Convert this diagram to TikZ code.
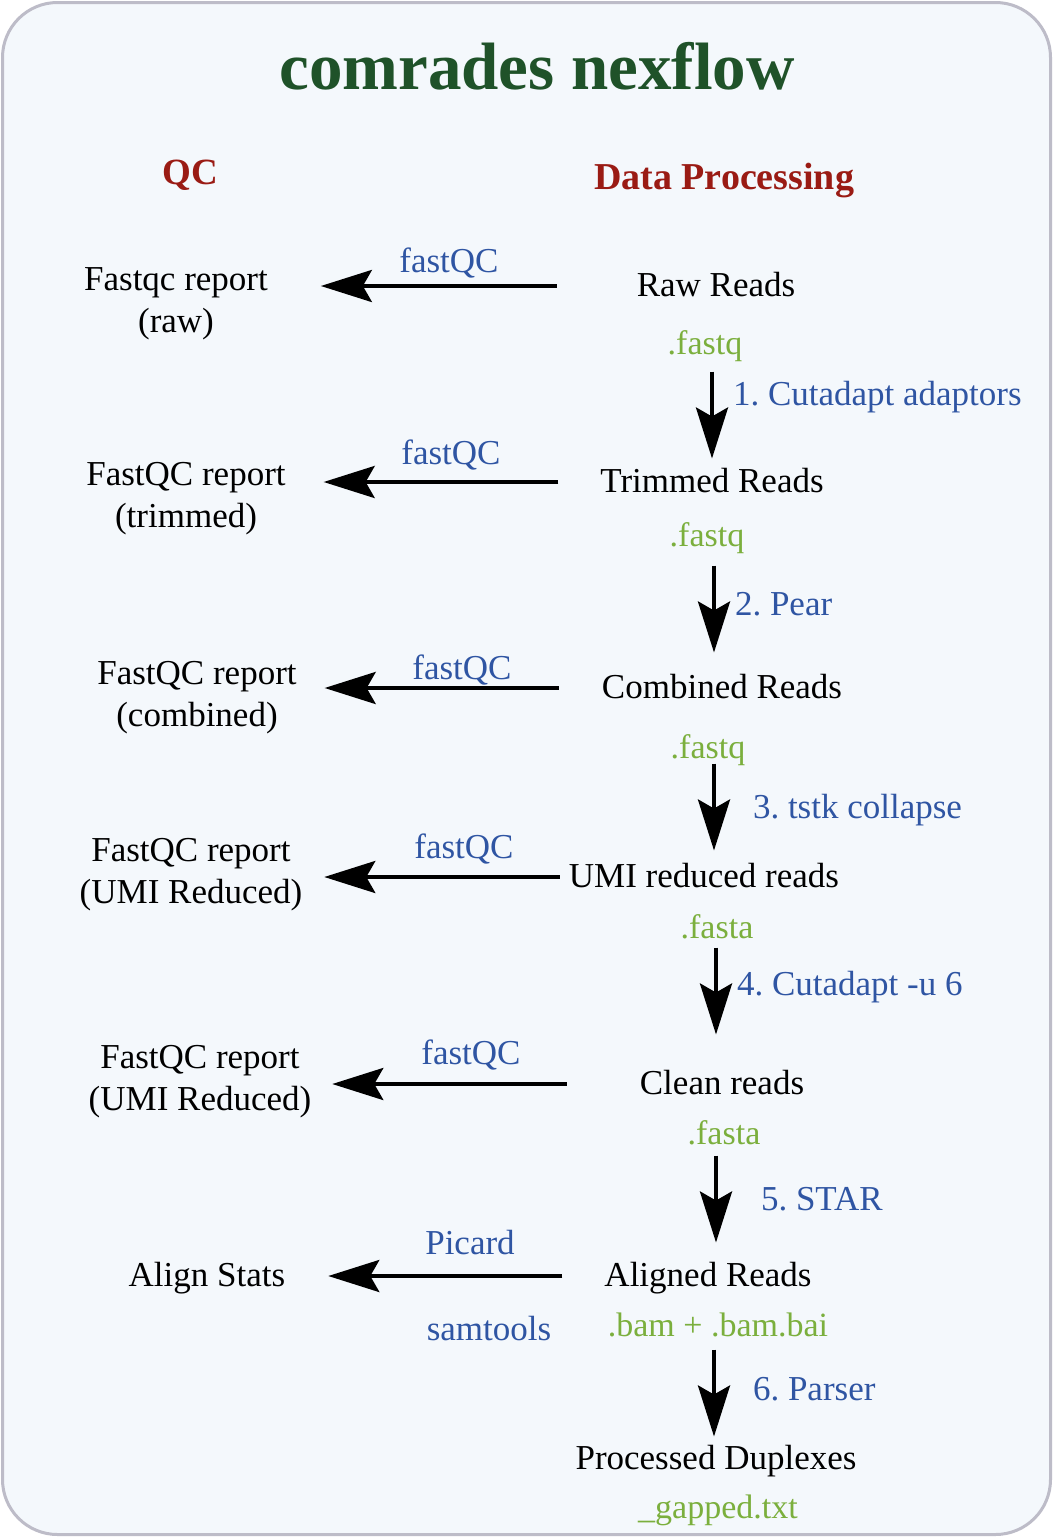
\documentclass[tikz,border=0pt]{standalone}
\usepackage{fontspec}
\setmainfont{Liberation Serif}
\usetikzlibrary{arrows.meta}
\definecolor{bgc}{HTML}{F4F8FC}
\definecolor{framec}{HTML}{BDBCC8}
\definecolor{titlegreen}{HTML}{1F5229}
\definecolor{hdrred}{HTML}{9A1B14}
\definecolor{toolblue}{HTML}{2F55A3}
\definecolor{extgreen}{HTML}{7BAF3D}
\frenchspacing
\begin{document}
\begin{tikzpicture}[x=1pt,y=-1pt,
  every node/.style={inner sep=0pt, outer sep=0pt},
  txt/.style={font=\fontsize{35}{42}\selectfont, text height=26pt, text depth=5pt},
  qcbox/.style={font=\fontsize{35}{42}\selectfont, align=center},
  tool/.style={txt, text=toolblue},
  steplab/.style={tool, anchor=west},
  ext/.style={font=\fontsize{34}{40}\selectfont, text height=26pt, text depth=5pt, text=extgreen},
  hdr/.style={font=\fontsize{38}{44}\selectfont\bfseries, text=hdrred},
  arr/.style={line width=4pt, -{Stealth[length=51pt,width=32pt,inset=9pt]}}
]
\useasboundingbox (0,0) rectangle (1053,1537);
\fill[white] (0,0) rectangle (1053,1537);
\draw[framec, line width=3pt, fill=bgc, rounded corners=55pt] (2.5,2.5) rectangle (1050.5,1534.5);

% title and headers
\node[font=\fontsize{67}{80}\selectfont\bfseries, text=titlegreen] (title) at (537,66) {comrades nexflow};
\node[hdr, font=\fontsize{37}{44}\selectfont\bfseries] (hqc) at (190,175) {QC};
\node[hdr] (hdp) at (724,181) {Data Processing};

% data processing column
\node[txt] (raw) at (716,286) {Raw Reads};
\node[ext] (fq1) at (705,344) {.fastq};
\node[txt] (trim) at (712,482) {Trimmed Reads};
\node[ext] (fq2) at (707,536) {.fastq};
\node[txt] (comb) at (722,688) {Combined Reads};
\node[ext] (fq3) at (708,748) {.fastq};
\node[txt] (umi) at (704,877) {UMI reduced reads};
\node[ext] (fa1) at (717,928) {.fasta};
\node[txt] (clean) at (722,1084) {Clean reads};
\node[ext] (fa2) at (724,1134) {.fasta};
\node[txt] (aligned) at (708,1276) {Aligned Reads};
\node[ext] (bam) at (718,1326) {.bam + .bam.bai};
\node[txt] (proc) at (716,1459) {Processed Duplexes};
\node[ext] (gap) at (718,1508) {\_gapped.txt};

% QC column
\node[qcbox] (qc1) at (176,304) {Fastqc report\\(raw)};
\node[qcbox] (qc2) at (186,499) {FastQC report\\(trimmed)};
\node[qcbox] (qc3) at (197,698) {FastQC report\\(combined)};
\node[qcbox] (qc4) at (191,875) {FastQC report\\(UMI Reduced)};
\node[qcbox] (qc5) at (200,1082) {FastQC report\\(UMI Reduced)};
\node[txt] (qc6) at (207,1276) {Align Stats};

% vertical steps
\draw[arr, shorten <=12pt, shorten >=8pt] ([xshift=7pt]fq1.south) -- ([xshift=7pt]fq1.south |- trim.north);
\draw[arr, shorten <=14pt, shorten >=20pt] ([xshift=7pt]fq2.south) -- ([xshift=7pt]fq2.south |- comb.north);
\draw[arr, shorten <=0pt, shorten >=11pt] ([xshift=6pt]fq3.south) -- ([xshift=6pt]fq3.south |- umi.north);
\draw[arr, shorten <=4pt, shorten >=34pt] ([xshift=-1pt]fa1.south) -- ([xshift=-1pt]fa1.south |- clean.north);
\draw[arr, shorten <=6pt, shorten >=18pt] ([xshift=-8pt]fa2.south) -- ([xshift=-8pt]fa2.south |- aligned.north);
\draw[arr, shorten <=8pt, shorten >=7pt] ([xshift=-4pt]bam.south) -- ([xshift=-4pt]bam.south |- proc.north);

\node[steplab] (s1) at (733,395) {1. Cutadapt adaptors};
\node[steplab] (s2) at (735,605) {2. Pear};
\node[steplab] (s3) at (753,808) {3. tstk collapse};
\node[steplab] (s4) at (737,985) {4. Cutadapt -u 6};
\node[steplab] (s5) at (761,1200) {5. STAR};
\node[steplab] (s6) at (753,1390) {6. Parser};

% QC arrows
\draw[arr, shorten <=80pt, shorten >=53pt] (raw.west) -- (raw.west -| qc1.east);
\draw[arr, shorten <=42pt, shorten >=38pt] (trim.west) -- (trim.west -| qc2.east);
\draw[arr, shorten <=43pt, shorten >=28pt] (comb.west) -- (comb.west -| qc3.east);
\draw[arr, shorten <=9pt, shorten >=22pt] (umi.west) -- (umi.west -| qc4.east);
\draw[arr, shorten <=73pt, shorten >=21pt] (clean.west) -- (clean.west -| qc5.east);
\draw[arr, shorten <=42pt, shorten >=43pt] (aligned.west) -- (aligned.west -| qc6.east);

\node[tool] (t1) at (449,262) {fastQC};
\node[tool] (t2) at (451,454) {fastQC};
\node[tool] (t3) at (462,669) {fastQC};
\node[tool] (t4) at (464,848) {fastQC};
\node[tool] (t5) at (471,1054) {fastQC};
\node[tool] (t6) at (470,1244) {Picard};
\node[tool] (t7) at (489,1330) {samtools};
\end{tikzpicture}
\end{document}
